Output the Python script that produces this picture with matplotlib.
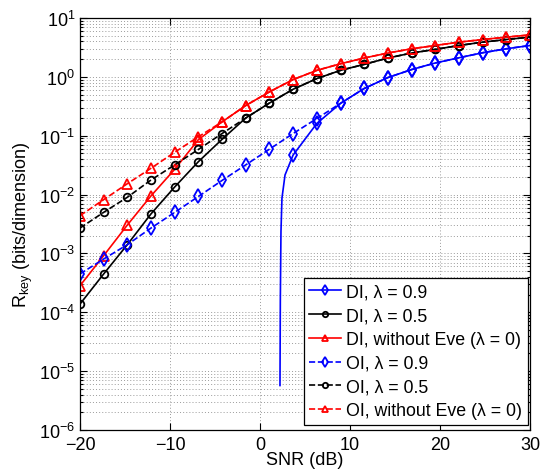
import numpy as np
import matplotlib
matplotlib.use("Agg")
import matplotlib.pyplot as plt
from matplotlib.ticker import LogLocator, FixedLocator

plt.rcParams['font.family'] = ['Liberation Sans', 'DejaVu Sans']
plt.rcParams['mathtext.fontset'] = 'custom'
plt.rcParams['mathtext.rm'] = 'Liberation Sans'
plt.rcParams['mathtext.it'] = 'Liberation Sans:italic'
plt.rcParams['mathtext.bf'] = 'Liberation Sans:bold'

# ---- data ----
snr = [-20, -17.37, -14.74, -12.11, -9.47, -6.84, -4.21, -1.58, 1.05, 3.68,
       6.32, 8.95, 11.58, 14.21, 16.84, 19.47, 22.11, 24.74, 27.37, 30]

# DI, lambda = 0.9 (zero key rate below ~2.2 dB): steep part + marker points
di_09_snr = [2.22, 2.26, 2.33, 2.44, 2.78, 3.68, 6.32, 8.95, 11.58, 14.21,
             16.84, 19.47, 22.11, 24.74, 27.37, 30]
di_09 = [5.7e-6, 1.68e-4, 2.35e-3, 8.7e-3, 2.15e-2, 4.7e-2, 0.162, 0.355, 0.635,
         0.973, 1.33, 1.72, 2.11, 2.57, 3.0, 3.41]
di_09_marker_idx = [5, 6, 7, 8, 9, 10, 11, 12, 13, 14, 15]

di_05 = [1.38e-4, 4.48e-4, 1.41e-3, 4.7e-3, 1.35e-2, 3.63e-2, 8.7e-2, 0.200,
         0.359, 0.616, 0.935, 1.29, 1.63, 2.09, 2.54, 2.93, 3.41, 3.89, 4.31, 4.73]
di_00 = [2.83e-4, 9.16e-4, 3.04e-3, 9.5e-3, 2.70e-2, 8.6e-2, 0.172, 0.326,
         0.556, 0.90, 1.29, 1.67, 2.09, 2.54, 3.0, 3.41, 3.89, 4.31, 4.73, 5.16]

oi_09 = [4.48e-4, 8.04e-4, 1.41e-3, 2.70e-3, 4.99e-3, 9.3e-3, 1.74e-2, 3.2e-2,
         5.9e-2, 0.109, 0.196, 0.355, 0.635, 0.973, 1.33, 1.72, 2.11, 2.57, 3.0, 3.41]
oi_05 = [2.70e-3, 4.99e-3, 9.0e-3, 1.77e-2, 3.2e-2, 5.85e-2, 0.109, 0.200,
         0.359, 0.616, 0.935, 1.29, 1.63, 2.09, 2.54, 2.93, 3.41, 3.89, 4.31, 4.73]
oi_00 = [4.38e-3, 8.2e-3, 1.53e-2, 2.80e-2, 5.25e-2, 9.6e-2, 0.172, 0.326,
         0.556, 0.90, 1.29, 1.67, 2.09, 2.54, 3.0, 3.41, 3.89, 4.31, 4.73, 5.16]

labels = ['DI, λ = 0.9', 'DI, λ = 0.5', 'DI, without Eve (λ = 0)',
          'OI, λ = 0.9', 'OI, λ = 0.5', 'OI, without Eve (λ = 0)']
xticks = [-20, -10, 0, 10, 20, 30]

# ---- figure ----
W, H = 552, 477
fig = plt.figure(figsize=(W / 100, H / 100), dpi=100)
L, R, T, B = 80, 530, 19, 431
ax = fig.add_axes([L / W, 1 - B / H, (R - L) / W, (B - T) / H])

blue, red, black = (0, 0, 1), (1, 0, 0), (0, 0, 0)
lw = 1.2
mew = 1.3
common = dict(lw=lw, mew=mew, mfc='none')
ms_d, ms_o, ms_t = 7.5, 5.5, 6.5

ax.plot(di_09_snr, di_09, '-', color=blue, marker='d', ms=ms_d,
        markevery=di_09_marker_idx, label=labels[0], **common)
ax.plot(snr, di_05, '-', color=black, marker='o', ms=ms_o, label=labels[1], **common)
ax.plot(snr, di_00, '-', color=red, marker='^', ms=ms_t, label=labels[2], **common)
ax.plot(snr, oi_09, '--', color=blue, marker='d', ms=ms_d, label=labels[3], **common)
ax.plot(snr, oi_05, '--', color=black, marker='o', ms=ms_o, label=labels[4], **common)
ax.plot(snr, oi_00, '--', color=red, marker='^', ms=ms_t, label=labels[5], **common)

ax.set_yscale('log')
ax.set_xlim(-20, 30)
ax.set_ylim(1e-6, 1e1)
ax.xaxis.set_major_locator(FixedLocator(xticks))
ax.yaxis.set_major_locator(LogLocator(base=10, numticks=20))
ax.yaxis.set_minor_locator(LogLocator(base=10, subs=np.arange(2, 10), numticks=20))

fs = 13
ax.tick_params(which='both', direction='in', top=True, right=True, labelsize=fs,
               width=0.8)
ax.tick_params(which='major', length=5)
ax.tick_params(which='minor', length=2.5)
ax.tick_params(axis='x', pad=4.5)

gstyle = dict(color='#9a9a9a', linestyle=(0, (1, 2.2)), linewidth=0.7)
ax.grid(True, which='major', axis='both', **gstyle)
ax.grid(True, which='minor', axis='y', **gstyle)
ax.set_axisbelow(True)
for s in ax.spines.values():
    s.set_linewidth(0.9)

ax.set_xlabel('SNR (dB)', fontsize=fs)
ax.set_ylabel(r'R$_{\mathrm{key}}$ (bits/dimension)', fontsize=fs)
ax.xaxis.set_label_coords(0.5, -(452 - B) / (B - T))
ax.yaxis.set_label_coords(-(80 - 35) / (R - L), 0.5)

leg = ax.legend(loc='lower right', bbox_to_anchor=((527.7 - L) / (R - L), (B - 425.7) / (B - T)),
                borderaxespad=0, fontsize=12.8, frameon=True, fancybox=False,
                edgecolor='black', framealpha=1, markerscale=0.7, handlelength=1.8,
                labelspacing=0.38, borderpad=0.3, handletextpad=0.3)
leg.get_frame().set_linewidth(0.9)

fig.savefig('out.png', dpi=100)
